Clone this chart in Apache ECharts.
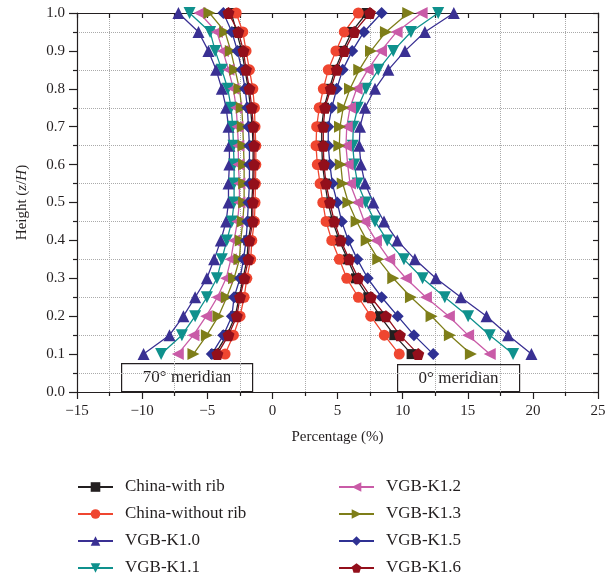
<!DOCTYPE html>
<html>
<head>
<meta charset="utf-8">
<script src="https://cdn.jsdelivr.net/npm/echarts@6/dist/echarts.min.js"></script>
<style>
  html, body { margin: 0; padding: 0; background: #fff; }
  #chart { width: 610px; height: 580px; }
</style>
</head>
<body>
<div id="chart"></div>
<script>
// heights z/H where the profiles were sampled
const heights = [0.1, 0.15, 0.2, 0.25, 0.3, 0.35, 0.4, 0.45, 0.5, 0.55, 0.6, 0.65, 0.7, 0.75, 0.8, 0.85, 0.9, 0.95, 1.0]

const xTicks = [-15, -10, -5, 0, 5, 10, 15, 20, 25]
const yTicks = [0, 0.1, 0.2, 0.3, 0.4, 0.5, 0.6, 0.7, 0.8, 0.9, 1.0]

const names = ['China-with rib', 'China-without rib', 'VGB-K1.0', 'VGB-K1.1', 'VGB-K1.2', 'VGB-K1.3', 'VGB-K1.5', 'VGB-K1.6']

// 70 degree meridian (left group)
const chinaRib70 = [-4.39, -3.5, -2.85, -2.55, -2.25, -1.95, -1.85, -1.6, -1.58, -1.5, -1.48, -1.48, -1.55, -1.68, -1.85, -2.1, -2.35, -2.75, -3.15]
const chinaNoRib70 = [-3.63, -2.99, -2.48, -2.17, -1.96, -1.66, -1.58, -1.38, -1.33, -1.3, -1.27, -1.27, -1.33, -1.38, -1.5, -1.76, -2.02, -2.27, -2.78]
const k10_70 = [-9.89, -7.9, -6.83, -5.93, -5.03, -4.47, -3.96, -3.55, -3.37, -3.37, -3.3, -3.3, -3.37, -3.55, -3.88, -4.32, -4.91, -5.67, -7.21]
const k11_70 = [-8.54, -6.95, -5.93, -5.03, -4.26, -3.88, -3.5, -3.11, -2.94, -2.94, -2.94, -2.99, -3.04, -3.17, -3.42, -3.88, -4.39, -4.78, -6.36]
const k12_70 = [-7.26, -6.06, -5.08, -4.22, -3.55, -3.19, -2.94, -2.68, -2.53, -2.53, -2.61, -2.61, -2.68, -2.78, -2.99, -3.37, -3.8, -4.26, -5.6]
const k13_70 = [-6.06, -5.03, -4.14, -3.5, -2.94, -2.53, -2.43, -2.27, -2.17, -2.17, -2.17, -2.22, -2.27, -2.35, -2.53, -2.86, -3.19, -3.63, -4.83]
const k15_70 = [-4.65, -3.76, -3.11, -2.94, -2.48, -2.22, -2.02, -1.92, -1.84, -1.76, -1.76, -1.76, -1.84, -1.92, -2.09, -2.35, -2.68, -3.11, -3.76]
const k16_70 = [-4.22, -3.37, -2.73, -2.48, -2.15, -1.84, -1.76, -1.5, -1.5, -1.42, -1.4, -1.4, -1.46, -1.58, -1.76, -2.02, -2.22, -2.61, -3.37]

// 0 degree meridian (right group)
const chinaRib0 = [10.69, 9.36, 8.26, 7.36, 6.42, 5.78, 5.14, 4.63, 4.27, 4.04, 3.85, 3.79, 3.79, 3.96, 4.37, 4.81, 5.4, 6.09, 7.24]
const chinaNoRib0 = [9.74, 8.59, 7.55, 6.6, 5.71, 5.14, 4.56, 4.12, 3.87, 3.66, 3.45, 3.35, 3.4, 3.6, 3.91, 4.29, 4.88, 5.52, 6.6]
const k10_0 = [19.89, 18.1, 16.44, 14.47, 12.55, 10.94, 9.59, 8.57, 7.75, 7.11, 6.8, 6.67, 6.73, 7.11, 7.88, 8.9, 10.18, 11.71, 13.93]
const k11_0 = [18.48, 16.69, 15.03, 13.24, 11.53, 10.1, 8.82, 7.88, 7.16, 6.55, 6.29, 6.17, 6.21, 6.55, 7.19, 8.13, 9.28, 10.64, 12.73]
const k12_0 = [16.69, 15.03, 13.55, 11.79, 10.25, 8.97, 7.95, 7.06, 6.52, 5.96, 5.78, 5.65, 5.71, 5.96, 6.47, 7.32, 8.34, 9.54, 11.46]
const k13_0 = [15.24, 13.63, 12.22, 10.64, 9.28, 8.13, 7.24, 6.47, 5.83, 5.4, 5.25, 5.14, 5.19, 5.44, 5.96, 6.67, 7.57, 8.72, 10.43]
const k15_0 = [12.35, 10.87, 9.62, 8.39, 7.32, 6.52, 5.83, 5.32, 4.98, 4.6, 4.42, 4.29, 4.29, 4.56, 4.94, 5.4, 6.13, 7.03, 8.39]
const k16_0 = [11.2, 9.79, 8.72, 7.57, 6.6, 5.9, 5.25, 4.75, 4.42, 4.12, 3.96, 3.91, 3.91, 4.04, 4.48, 4.94, 5.52, 6.29, 7.49]

const left = [chinaRib70, chinaNoRib70, k10_70, k11_70, k12_70, k13_70, k15_70, k16_70]
const right = [chinaRib0, chinaNoRib0, k10_0, k11_0, k12_0, k13_0, k15_0, k16_0]

const pentagon = 'path://M0,-10 L9.51,-3.09 L5.88,8.09 L-5.88,8.09 L-9.51,-3.09 Z'
const styles = [
  { color: '#231f20', symbol: 'rect', size: 10, rotate: 0 },
  { color: '#ef4630', symbol: 'circle', size: 11, rotate: 0 },
  { color: '#3a3093', symbol: 'triangle', size: 12, rotate: 0 },
  { color: '#0f918d', symbol: 'triangle', size: 12, rotate: 180 },
  { color: '#c95ba7', symbol: 'triangle', size: 12, rotate: 90 },
  { color: '#7e7e19', symbol: 'triangle', size: 12, rotate: -90 },
  { color: '#2f3193', symbol: 'diamond', size: 12, rotate: 0 },
  { color: '#930f1b', symbol: pentagon, size: 12, rotate: 0 }
]

const font = 'Liberation Serif'
const ink = '#231f20'

const series = []
names.forEach((name, i) => {
  const st = styles[i]
  ;[left[i], right[i]].forEach((vals) => {
    series.push({
      name: name,
      type: 'line',
      data: heights.map((h, k) => [vals[k], h]),
      symbol: st.symbol,
      symbolSize: st.size,
      symbolRotate: st.rotate,
      showSymbol: true,
      lineStyle: { color: st.color, width: 1.3 },
      itemStyle: { color: st.color },
      animation: false
    })
  })
})

const minus = (v) => (v < 0 ? '\u2212' + Math.abs(v) : String(v))

const legendBase = {
  orient: 'vertical',
  top: 477,
  height: 103,
  padding: 0,
  itemWidth: 35,
  itemHeight: 12,
  itemGap: 7,
  textStyle: { fontFamily: font, fontSize: 17, color: ink, lineHeight: 20, padding: [0, 0, 0, 7] }
}

const chartDom = echarts.init(document.getElementById('chart'))
const option = {
  backgroundColor: '#fff',
  animation: false,
  grid: { left: 77, right: 12, top: 13, bottom: 188 },
  xAxis: [
    {
      type: 'value',
      min: xTicks[0],
      max: xTicks[xTicks.length - 1],
      interval: 5,
      position: 'bottom',
      name: 'Percentage (%)',
      nameLocation: 'middle',
      nameGap: 38,
      nameTextStyle: { fontFamily: font, fontSize: 15, color: ink },
      axisLine: { onZero: false, lineStyle: { color: ink, width: 1.2 } },
      axisTick: { length: 7, lineStyle: { color: ink, width: 1.2 } },
      minorTick: { show: true, splitNumber: 2, length: 4, lineStyle: { color: ink, width: 1.2 } },
      splitLine: { show: false },
      minorSplitLine: { show: true, lineStyle: { color: '#aaa', type: 'dotted', width: 1 } },
      axisLabel: { fontFamily: font, fontSize: 15, color: ink, margin: 12, formatter: minus }
    },
    {
      type: 'value',
      min: xTicks[0],
      max: xTicks[xTicks.length - 1],
      interval: 5,
      position: 'top',
      axisLine: { show: true, onZero: false, lineStyle: { color: ink, width: 1.2 } },
      axisTick: { inside: true, length: 5, lineStyle: { color: ink, width: 1.2 } },
      minorTick: { show: true, splitNumber: 2, length: 5, lineStyle: { color: ink, width: 1.2 } },
      splitLine: { show: false },
      axisLabel: { show: false }
    }
  ],
  yAxis: [
    {
      type: 'value',
      min: yTicks[0],
      max: yTicks[yTicks.length - 1],
      interval: 0.1,
      position: 'left',
      name: 'Height ({i|z}/{i|H})',
      nameLocation: 'middle',
      nameGap: 47,
      nameTextStyle: {
        fontFamily: font, fontSize: 15, color: ink,
        rich: { i: { fontFamily: font, fontSize: 15, color: ink, fontStyle: 'italic' } }
      },
      axisLine: { show: true, onZero: false, lineStyle: { color: ink, width: 1.2 } },
      axisTick: { length: 8, lineStyle: { color: ink, width: 1.2 } },
      minorTick: { show: true, splitNumber: 2, length: 4, lineStyle: { color: ink, width: 1.2 } },
      splitLine: { show: false },
      minorSplitLine: { show: true, lineStyle: { color: '#aaa', type: 'dotted', width: 1 } },
      axisLabel: { fontFamily: font, fontSize: 15, color: ink, margin: 12, formatter: (v) => v.toFixed(1) }
    },
    {
      type: 'value',
      min: yTicks[0],
      max: yTicks[yTicks.length - 1],
      interval: 0.1,
      position: 'right',
      axisLine: { show: true, onZero: false, lineStyle: { color: ink, width: 1.2 } },
      axisTick: { inside: true, length: 5, lineStyle: { color: ink, width: 1.2 } },
      minorTick: { show: true, splitNumber: 2, length: 5, lineStyle: { color: ink, width: 1.2 } },
      splitLine: { show: false },
      axisLabel: { show: false }
    }
  ],
  legend: [
    Object.assign({}, legendBase, { data: names.slice(0, 4), left: 77 }),
    Object.assign({}, legendBase, { data: names.slice(4), left: 338 })
  ],
  graphic: [
    {
      type: 'group',
      left: 121,
      top: 363,
      z: 100,
      children: [
        { type: 'rect', shape: { x: 0, y: 0, width: 131, height: 28 }, style: { fill: '#fff', stroke: ink, lineWidth: 1.2 } },
        { type: 'text', x: 65.5, y: 14, style: { text: '70° meridian', font: '17px "Liberation Serif"', fill: ink, align: 'center', verticalAlign: 'middle' } }
      ]
    },
    {
      type: 'group',
      left: 397,
      top: 364,
      z: 100,
      children: [
        { type: 'rect', shape: { x: 0, y: 0, width: 122, height: 27 }, style: { fill: '#fff', stroke: ink, lineWidth: 1.2 } },
        { type: 'text', x: 61, y: 13.5, style: { text: '0° meridian', font: '17px "Liberation Serif"', fill: ink, align: 'center', verticalAlign: 'middle' } }
      ]
    }
  ],
  series: series
}
option && chartDom.setOption(option)
</script>
</body>
</html>
